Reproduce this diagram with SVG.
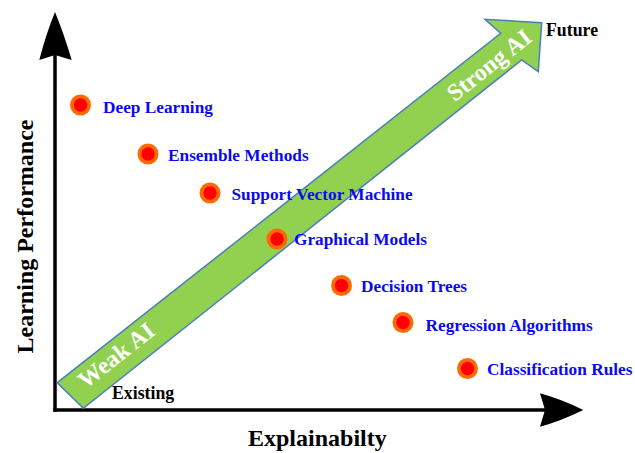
<svg xmlns="http://www.w3.org/2000/svg" width="635" height="453" viewBox="0 0 635 453">
<style>
text{font-family:"Liberation Serif","Times New Roman",serif;font-weight:bold}
.lbl{font-size:17.3px;fill:#0A0AF0}
.blk{font-size:17.8px;fill:#000}
.ax{font-size:24px;fill:#000}
.ai{font-size:24px;fill:#fff}
.axis{stroke:#000;stroke-width:3.5;fill:none}
.ring{fill:#FF6A00}
.dot{fill:#FF0000}
</style>
<defs>
<g id="pt"><circle r="10.5" class="ring"/><circle r="6.7" class="dot"/></g>
</defs>
<rect width="635" height="453" fill="#fff"/>
<g id="axes">
<line class="axis" x1="55" y1="55" x2="55" y2="411.7"/>
<line class="axis" x1="53.3" y1="410" x2="545" y2="410"/>
<path d="M55,12 Q46,34 39.3,60 L55,55 L71.7,60 Q64,34 55,12 Z" fill="#000"/>
<path d="M583.3,410 Q561,399 540,393.3 L545,410 L540,426.7 Q561,421 583.3,410 Z" fill="#000"/>
</g>
<g id="trend">
<polygon points="57.3,382.7 500.7,33.3 485,19.3 541.7,22.7 538.3,71.7 521.7,60 83.3,408.3" fill="#92D050" stroke="#4A7EBB" stroke-width="1.5" stroke-linejoin="miter"/>
<text class="ai" text-anchor="middle" transform="translate(121,361.7) rotate(-38.3)">Weak AI</text>
<text class="ai" text-anchor="middle" transform="translate(494,71.3) rotate(-38.3)">Strong AI</text>
</g>
<g id="n1"><use href="#pt" x="80.5" y="105"/><text class="lbl" x="103" y="112.5">Deep Learning</text></g>
<g id="n2"><use href="#pt" x="148" y="154"/><text class="lbl" x="168" y="161">Ensemble Methods</text></g>
<g id="n3"><use href="#pt" x="210" y="193"/><text class="lbl" x="231.5" y="200">Support Vector Machine</text></g>
<g id="n4"><use href="#pt" x="277" y="239"/><text class="lbl" x="294" y="244.5">Graphical Models</text></g>
<g id="n5"><use href="#pt" x="341.5" y="285.5"/><text class="lbl" x="361" y="291.5">Decision Trees</text></g>
<g id="n6"><use href="#pt" x="403" y="322.5"/><text class="lbl" x="425.5" y="331">Regression Algorithms</text></g>
<g id="n7"><use href="#pt" x="467.5" y="368.5"/><text class="lbl" x="487" y="374.5">Classification Rules</text></g>
<text class="blk" x="546" y="36">Future</text>
<text class="blk" x="112" y="399">Existing</text>
<text class="ax" x="248" y="445.5">Explainabilty</text>
<text class="ax" text-anchor="middle" transform="translate(33,236.5) rotate(-90)">Learning Performance</text>
</svg>
